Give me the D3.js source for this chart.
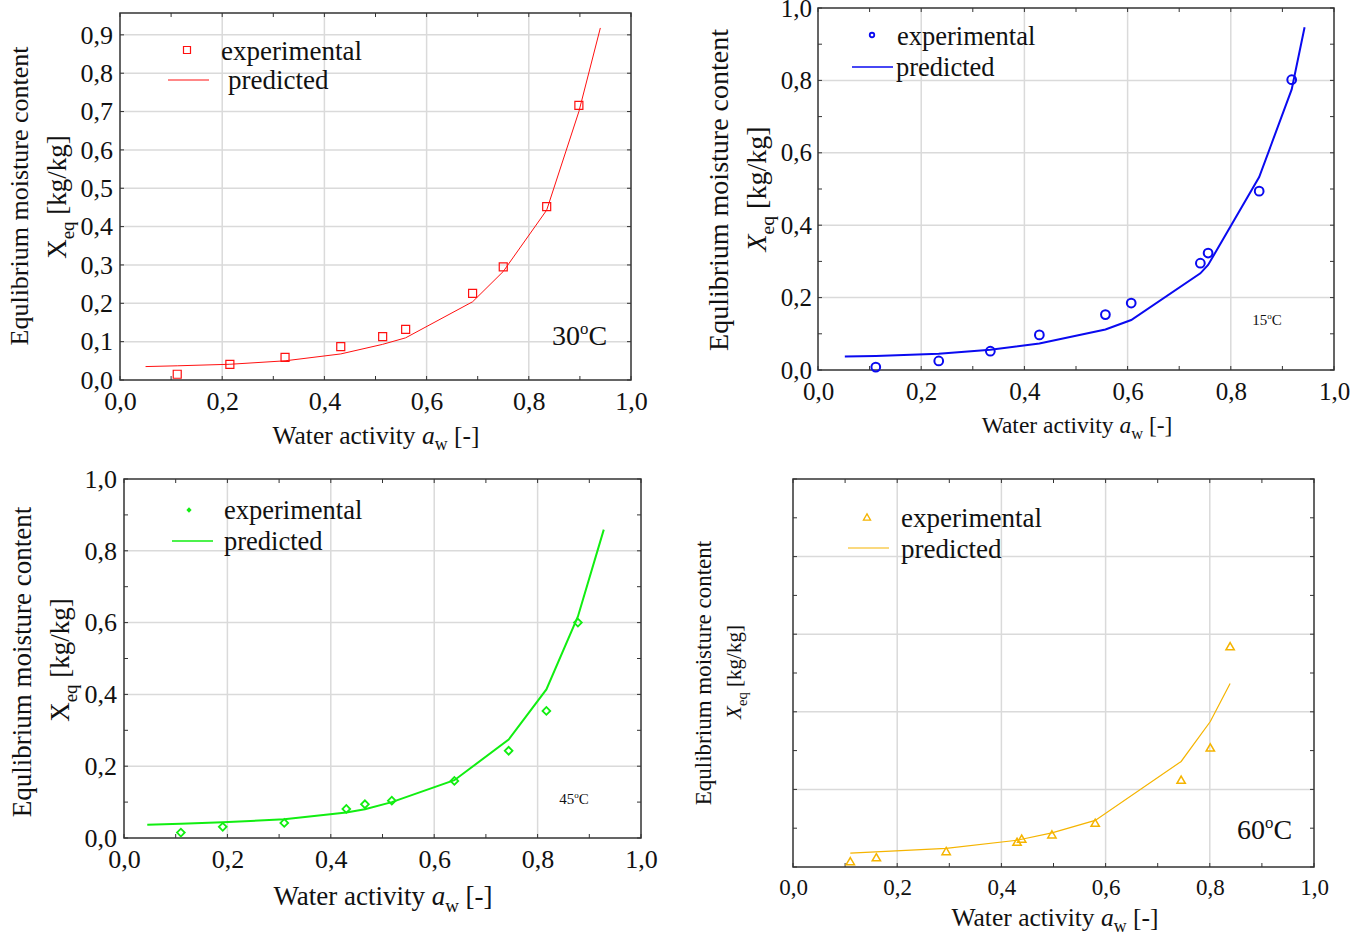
<!DOCTYPE html>
<html>
<head>
<meta charset="utf-8">
<script src="https://cdn.jsdelivr.net/npm/d3@7"></script>
<style>
  body { margin: 0; background: #fff; }
  svg { display: block; }
  text { font-family: "Liberation Serif", "Times New Roman", serif; fill: #111; }
</style>
</head>
<body>
<svg id="chart" width="1365" height="937"></svg>
<script>
// ---- data ----
// 30 C
var aw30 = [0.112, 0.215, 0.323, 0.432, 0.514, 0.559, 0.690, 0.750, 0.835, 0.898];
var exp30 = [0.015, 0.041, 0.059, 0.087, 0.113, 0.132, 0.226, 0.295, 0.452, 0.716];
var awPred30 = [0.05, 0.112, 0.215, 0.323, 0.432, 0.514, 0.559, 0.690, 0.750, 0.835, 0.898, 0.94];
var pred30 = [0.035, 0.037, 0.041, 0.050, 0.068, 0.093, 0.110, 0.204, 0.283, 0.443, 0.700, 0.918];
// 15 C
var aw15 = [0.112, 0.234, 0.334, 0.429, 0.557, 0.607, 0.741, 0.756, 0.855, 0.918];
var exp15 = [0.008, 0.025, 0.052, 0.097, 0.153, 0.185, 0.295, 0.323, 0.494, 0.802];
var awPred15 = [0.052, 0.112, 0.234, 0.334, 0.429, 0.557, 0.607, 0.741, 0.756, 0.855, 0.918, 0.943];
var pred15 = [0.037, 0.039, 0.045, 0.056, 0.073, 0.112, 0.138, 0.267, 0.290, 0.533, 0.775, 0.947];
// 45 C
var aw45 = [0.110, 0.191, 0.310, 0.430, 0.466, 0.518, 0.639, 0.744, 0.817, 0.878];
var exp45 = [0.015, 0.031, 0.042, 0.081, 0.094, 0.104, 0.159, 0.243, 0.354, 0.600];
var awPred45 = [0.045, 0.110, 0.191, 0.310, 0.430, 0.466, 0.518, 0.639, 0.744, 0.817, 0.878, 0.928];
var pred45 = [0.037, 0.040, 0.044, 0.052, 0.071, 0.080, 0.100, 0.161, 0.274, 0.414, 0.617, 0.859];
// 60 C
var aw60 = [0.110, 0.160, 0.294, 0.430, 0.439, 0.497, 0.580, 0.745, 0.801, 0.839];
var exp60 = [0.012, 0.022, 0.038, 0.062, 0.070, 0.081, 0.111, 0.222, 0.305, 0.566];
var awPred60 = [0.110, 0.294, 0.430, 0.497, 0.580, 0.745, 0.801, 0.839];
var pred60 = [0.036, 0.048, 0.069, 0.088, 0.120, 0.272, 0.375, 0.473];

var xTicks = [0, 0.2, 0.4, 0.6, 0.8, 1.0];
var xMinor = d3.range(0, 1.001, 0.1);
var yTicks30 = [0, 0.1, 0.2, 0.3, 0.4, 0.5, 0.6, 0.7, 0.8, 0.9];
var yTicks = [0, 0.2, 0.4, 0.6, 0.8, 1.0];
var yMinor = d3.range(0, 1.001, 0.1);

var fmt = function (v) { return d3.format(".1f")(v).replace(".", ","); };

var svg = d3.select("#chart");

function zip(a, b) { return a.map(function (v, i) { return [v, b[i]]; }); }

function drawPanel(c) {
  var x = d3.scaleLinear().domain([0, 1]).range([c.left, c.right]);
  var y = d3.scaleLinear().domain([0, c.yMax]).range([c.bottom, c.top]);
  var g = svg.append("g");

  // grid
  g.selectAll(".gx").data(c.gridX).enter().append("line")
    .attr("x1", function (d) { return x(d); }).attr("x2", function (d) { return x(d); })
    .attr("y1", c.top).attr("y2", c.bottom)
    .attr("stroke", "#dadada").attr("stroke-width", 1.5);
  g.selectAll(".gy").data(c.gridY).enter().append("line")
    .attr("y1", function (d) { return y(d); }).attr("y2", function (d) { return y(d); })
    .attr("x1", c.left).attr("x2", c.right)
    .attr("stroke", "#dadada").attr("stroke-width", 1.5);

  // small inner ticks on all four sides
  var tk = 4;
  xMinor.forEach(function (d) {
    g.append("line").attr("x1", x(d)).attr("x2", x(d)).attr("y1", c.bottom).attr("y2", c.bottom - tk).attr("stroke", "#333");
    g.append("line").attr("x1", x(d)).attr("x2", x(d)).attr("y1", c.top).attr("y2", c.top + tk).attr("stroke", "#333");
  });
  c.yMinorTicks.forEach(function (d) {
    g.append("line").attr("y1", y(d)).attr("y2", y(d)).attr("x1", c.left).attr("x2", c.left + tk).attr("stroke", "#333");
    g.append("line").attr("y1", y(d)).attr("y2", y(d)).attr("x1", c.right).attr("x2", c.right - tk).attr("stroke", "#333");
  });

  // frame
  g.append("rect").attr("x", c.left).attr("y", c.top)
    .attr("width", c.right - c.left).attr("height", c.bottom - c.top)
    .attr("fill", "none").attr("stroke", "#333").attr("stroke-width", 1.5);

  // axes labels
  var xAxis = d3.axisBottom(x).tickValues(xTicks).tickFormat(fmt).tickSize(0).tickPadding(c.xPad);
  var ax = g.append("g").attr("transform", "translate(0," + c.bottom + ")").call(xAxis);
  ax.select(".domain").remove();
  ax.selectAll("text").style("font-size", c.tickFont + "px").style("font-family", "Liberation Serif").attr("fill", "#111");

  if (c.yLabels) {
    var yAxis = d3.axisLeft(y).tickValues(c.yLabels).tickFormat(fmt).tickSize(0).tickPadding(c.yPad);
    var ay = g.append("g").attr("transform", "translate(" + c.left + ",0)").call(yAxis);
    ay.select(".domain").remove();
    ay.selectAll("text").style("font-size", c.tickFont + "px").style("font-family", "Liberation Serif").attr("fill", "#111");
  }

  // x title (subscript shifts in px so the baseline comes back exactly)
  var sx = Math.round(c.xTitleFont * 0.25);
  var xt = g.append("text").attr("x", c.xTitle[0]).attr("y", c.xTitle[1])
    .attr("text-anchor", "middle").style("font-size", c.xTitleFont + "px");
  xt.append("tspan").text("Water activity" + c.xGap);
  xt.append("tspan").attr("font-style", "italic").text("a");
  xt.append("tspan").attr("font-size", "0.7em").attr("dy", sx).text("w");
  xt.append("tspan").attr("dy", -sx).text(" [-]");

  // y title, two rotated lines
  g.append("text").attr("transform", "translate(" + c.yTitle1[0] + "," + c.yTitle1[1] + ") rotate(-90)")
    .attr("text-anchor", "middle").attr("dy", "0.35em").style("font-size", c.yTitleFont + "px")
    .text("Equlibrium moisture content");
  var sy = Math.round(c.yTitle2Font * 0.3);
  var yt = g.append("text").attr("transform", "translate(" + c.yTitle2[0] + "," + (c.yTitle2[1]) + ") rotate(-90)")
    .attr("text-anchor", "middle").attr("y", Math.round(c.yTitle2Font * 0.35)).style("font-size", c.yTitle2Font + "px");
  yt.append("tspan").attr("font-style", c.xItalic ? "italic" : "normal").text("X");
  yt.append("tspan").attr("font-size", "0.7em").attr("dy", sy).text("eq");
  yt.append("tspan").attr("dy", -sy).text(" [kg/kg]");

  // predicted line
  var line = d3.line().x(function (d) { return x(d[0]); }).y(function (d) { return y(d[1]); });
  g.append("path").datum(zip(c.predX, c.predY)).attr("d", line)
    .attr("fill", "none").attr("stroke", c.color).attr("stroke-width", c.lineW);

  // experimental markers
  var pts = zip(c.expX, c.expY);
  var sym = d3.symbol().type(c.symbol).size(c.symSize);
  g.selectAll(".pt").data(pts).enter().append("path")
    .attr("transform", function (d) {
      return "translate(" + x(d[0]) + "," + y(d[1]) + ")" + (c.symRot ? " rotate(" + c.symRot + ")" : "");
    })
    .attr("d", sym).attr("fill", "none").attr("stroke", c.color).attr("stroke-width", c.symW);

  // legend
  var L = c.legend;
  var m = g.append("path").attr("transform", "translate(" + L.mx + "," + L.my + ")" + (c.symRot ? " rotate(" + c.symRot + ")" : ""))
    .attr("d", d3.symbol().type(c.symbol).size(L.msize)());
  if (L.filled) m.attr("fill", c.color).attr("stroke", "none");
  else m.attr("fill", "none").attr("stroke", c.color).attr("stroke-width", L.mw);
  g.append("text").attr("x", L.tx1).attr("y", L.ty1).style("font-size", L.font + "px").text("experimental");
  g.append("line").attr("x1", L.lx1).attr("x2", L.lx2).attr("y1", L.ly).attr("y2", L.ly)
    .attr("stroke", c.color).attr("stroke-width", c.lineW > 1.5 ? 1.5 : c.lineW);
  g.append("text").attr("x", L.tx2).attr("y", L.ty2).style("font-size", L.font + "px").text("predicted");

  // temperature tag
  var T = c.temp;
  var up = Math.round(T.font * 0.4);
  var tt = g.append("text").attr("x", T.x).attr("y", T.y).attr("text-anchor", T.anchor).style("font-size", T.font + "px");
  tt.append("tspan").text(T.num);
  tt.append("tspan").attr("font-size", "0.6em").attr("dy", -up).text(T.deg);
  tt.append("tspan").attr("dy", up).text("C");
}

// 30 C, top left
drawPanel({
  left: 120, right: 631, top: 13, bottom: 380, yMax: 0.957,
  gridX: [0.2, 0.4, 0.6, 0.8], gridY: yTicks30.slice(1), yMinorTicks: yTicks30, yLabels: yTicks30,
  tickFont: 26, xPad: 12, yPad: 7,
  xTitle: [376, 444], xTitleFont: 25.5, xGap: " ",
  yTitle1: [19, 196], yTitle2: [57, 197], yTitleFont: 26, yTitle2Font: 27, xItalic: false,
  predX: awPred30, predY: pred30, expX: aw30, expY: exp30,
  color: "#ff1010", lineW: 1, symbol: d3.symbolSquare, symSize: 64, symW: 1.2, symRot: 0,
  legend: { mx: 187, my: 50, msize: 49, mw: 1.2, filled: false, tx1: 221, ty1: 60, lx1: 168, lx2: 209, ly: 80, tx2: 228, ty2: 89, font: 27 },
  temp: { x: 552, y: 345, anchor: "start", font: 28, num: "30", deg: "o" }
});

// 15 C, top right
drawPanel({
  left: 818, right: 1334, top: 8, bottom: 370, yMax: 1.0,
  gridX: [0.2, 0.4, 0.6, 0.8], gridY: [0.2, 0.4, 0.6, 0.8], yMinorTicks: yMinor, yLabels: yTicks,
  tickFont: 25, xPad: 12, yPad: 6,
  xTitle: [1077, 433], xTitleFont: 23.5, xGap: "  ",
  yTitle1: [718, 190], yTitle2: [756, 189], yTitleFont: 28, yTitle2Font: 28, xItalic: true,
  predX: awPred15, predY: pred15, expX: aw15, expY: exp15,
  color: "#0a0af0", lineW: 2, symbol: d3.symbolCircle, symSize: 60, symW: 2, symRot: 0,
  legend: { mx: 872, my: 35, msize: 16, mw: 1.8, filled: false, tx1: 897, ty1: 45, lx1: 852, lx2: 893, ly: 67, tx2: 896, ty2: 76, font: 26.5 },
  temp: { x: 1267, y: 325, anchor: "middle", font: 15, num: "15", deg: "o" }
});

// 45 C, bottom left
drawPanel({
  left: 124, right: 641, top: 479, bottom: 838, yMax: 1.0,
  gridX: [0.2, 0.4, 0.6, 0.8], gridY: [0.2, 0.4, 0.6, 0.8], yMinorTicks: yMinor, yLabels: yTicks,
  tickFont: 26, xPad: 12, yPad: 7,
  xTitle: [383, 905], xTitleFont: 27, xGap: " ",
  yTitle1: [22, 662], yTitle2: [60, 660], yTitleFont: 27, yTitle2Font: 27, xItalic: false,
  predX: awPred45, predY: pred45, expX: aw45, expY: exp45,
  color: "#11ee11", lineW: 2, symbol: d3.symbolSquare, symSize: 30, symW: 1.8, symRot: 45,
  legend: { mx: 189, my: 510, msize: 14, mw: 1, filled: true, tx1: 224, ty1: 519, lx1: 172, lx2: 213, ly: 541, tx2: 224, ty2: 550, font: 26.5 },
  temp: { x: 574, y: 804, anchor: "middle", font: 15, num: "45", deg: "o" }
});

// 60 C, bottom right
drawPanel({
  left: 793, right: 1314, top: 479, bottom: 867, yMax: 1.0,
  gridX: [0.2, 0.4, 0.6, 0.8], gridY: [0.2, 0.4, 0.6, 0.8], yMinorTicks: yMinor, yLabels: null,
  tickFont: 23, xPad: 12, yPad: 7,
  xTitle: [1055, 926], xTitleFont: 25.5, xGap: " ",
  yTitle1: [703, 673], yTitle2: [734, 672], yTitleFont: 23, yTitle2Font: 21, xItalic: true,
  predX: awPred60, predY: pred60, expX: aw60, expY: exp60,
  color: "#f5b400", lineW: 1.2, symbol: d3.symbolTriangle, symSize: 30, symW: 1.5, symRot: 0,
  legend: { mx: 867, my: 518, msize: 22, mw: 1.3, filled: false, tx1: 901, ty1: 527, lx1: 848, lx2: 889, ly: 548, tx2: 901, ty2: 558, font: 27 },
  temp: { x: 1237, y: 839, anchor: "start", font: 28, num: "60", deg: "o" }
});
</script>
</body>
</html>
